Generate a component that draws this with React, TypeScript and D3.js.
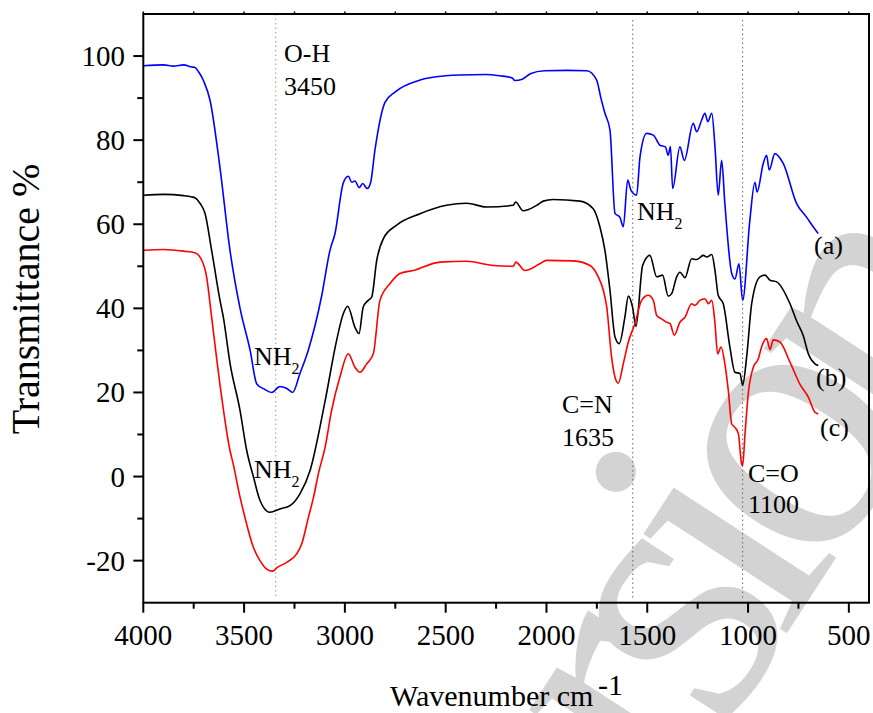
import React from 'react';
import * as d3 from 'd3';

const xMajorTicks = [4000, 3500, 3000, 2500, 2000, 1500, 1000, 500];
const xMinorTicks = [3750, 3250, 2750, 2250, 1750, 1250, 750];
const xTopTicks = [4000, 3750, 3500, 3250, 3000, 2750, 2500, 2250, 2000, 1750, 1500, 1250, 1000, 750, 500];
const yMajorTicks = [-20, 0, 20, 40, 60, 80, 100];
const yMinorTicks = [-10, 10, 30, 50, 70, 90];
const markerLines = [3343, 1572, 1027];

const waveA = [4000, 3900, 3850, 3800, 3760, 3744, 3725, 3700, 3669, 3620, 3570, 3520, 3470, 3437, 3400, 3363, 3322, 3290, 3259, 3223, 3182, 3115, 3074, 3049, 3008, 2983, 2966, 2950, 2929, 2912, 2889, 2872, 2851, 2801, 2750, 2627, 2500, 2429, 2300, 2231, 2170, 2157, 2120, 2080, 2010, 1900, 1800, 1751, 1730, 1710, 1685, 1660, 1636, 1619, 1597, 1581, 1553, 1536, 1503, 1470, 1437, 1410, 1396, 1385, 1374, 1338, 1316, 1272, 1255, 1230, 1214, 1200, 1180, 1164, 1148, 1131, 1115, 1081, 1065, 1045, 1027, 991, 966, 955, 925, 908, 895, 867, 825, 759, 710, 677, 652];
const transA = [97.7, 97.9, 97.6, 97.9, 97.4, 97.3, 96.2, 94, 89.5, 73.6, 53.8, 40, 30, 22, 20.8, 20, 21.4, 21, 20, 24.5, 30, 43, 53.8, 57.8, 69.8, 71.4, 70, 70.3, 68.7, 69.7, 68.5, 70, 77.6, 89, 91.5, 94.3, 95.3, 95.5, 95.6, 95.3, 94.8, 94.2, 94.5, 95.8, 96.5, 96.6, 96.5, 94.3, 90, 86.4, 82.4, 62.6, 61.7, 59.4, 70.5, 68.1, 66.9, 76, 81.6, 81.2, 78.8, 78.4, 76.4, 78.5, 68.5, 78.4, 75.2, 84, 82, 84.8, 86.4, 84.4, 86.4, 78.4, 66.9, 75.2, 64.9, 48.3, 47, 50.6, 41.9, 61, 70, 67.7, 74.4, 76.4, 72.9, 76.8, 74.4, 64.9, 61.7, 59.4, 57.8];

const waveB = [4000, 3900, 3800, 3760, 3744, 3719, 3694, 3661, 3620, 3603, 3570, 3520, 3487, 3454, 3421, 3372, 3322, 3272, 3223, 3173, 3098, 3041, 3008, 2986, 2950, 2930, 2909, 2884, 2867, 2842, 2809, 2743, 2627, 2496, 2396, 2297, 2165, 2153, 2116, 2049, 2016, 1967, 1834, 1768, 1735, 1710, 1685, 1660, 1639, 1611, 1594, 1573, 1556, 1523, 1487, 1453, 1424, 1396, 1379, 1354, 1338, 1313, 1280, 1255, 1222, 1205, 1180, 1164, 1148, 1123, 1090, 1065, 1040, 1027, 1007, 982, 941, 916, 891, 858, 792, 759, 726, 701, 668, 652];
const transB = [66.9, 67.1, 66.8, 66.5, 66.3, 65, 62.6, 53.8, 42, 37.9, 27, 15.7, 6.2, 0, -5.7, -8.5, -7.7, -6.9, -4.1, 1.4, 18, 32.4, 38.7, 40.5, 35.5, 34, 40.3, 41.9, 42.7, 51.4, 56.6, 59.8, 62.5, 64.5, 65, 64.1, 64.5, 65.3, 63.2, 64.5, 65.5, 65.9, 65.5, 63.7, 59.4, 53.8, 44.3, 33.2, 31.6, 37.9, 42.9, 40.3, 35.7, 50.2, 52.6, 47.5, 47.9, 42.9, 43.5, 47.5, 48.6, 47.3, 51.8, 51.6, 52.6, 52.2, 52.8, 49, 43.1, 41.1, 30.8, 24.8, 24.5, 21.7, 28.4, 41.1, 47.5, 47.9, 46.7, 46.3, 41.1, 37, 33.5, 29.2, 26.8, 26.4];

const waveC = [4000, 3900, 3800, 3744, 3719, 3686, 3661, 3620, 3570, 3554, 3520, 3504, 3454, 3421, 3388, 3358, 3338, 3289, 3239, 3214, 3181, 3156, 3130, 3098, 3066, 3025, 2983, 2950, 2925, 2892, 2859, 2826, 2776, 2727, 2661, 2528, 2396, 2264, 2165, 2152, 2107, 2033, 2000, 1867, 1784, 1743, 1718, 1701, 1677, 1660, 1644, 1619, 1594, 1561, 1528, 1495, 1470, 1453, 1429, 1404, 1387, 1366, 1338, 1313, 1280, 1263, 1239, 1214, 1197, 1180, 1164, 1151, 1134, 1115, 1098, 1081, 1065, 1048, 1032, 1027, 1015, 999, 974, 949, 933, 908, 891, 875, 842, 792, 743, 701, 668, 652];
const transC = [53.8, 54, 53.6, 53.2, 52.2, 47.5, 37.9, 22, 6.2, 3, -4.9, -8.1, -16.8, -20, -22, -22.5, -21.7, -20.4, -18.4, -16, -9.7, -5, 1, 7, 15.7, 23.6, 29.2, 26, 24.8, 26.8, 29.2, 41.9, 45.9, 48.3, 49, 51, 51.2, 50.2, 50, 51, 49, 50.6, 51.4, 51.3, 50.2, 47.5, 44.3, 40.3, 28.4, 23.6, 22.2, 26.8, 32, 36.4, 41.9, 43.1, 41.9, 38.3, 37.5, 36.7, 36.4, 33.6, 36.7, 37.9, 41.1, 40.7, 41.9, 42.3, 41.1, 41.9, 36.4, 29.2, 30.8, 26.8, 20.5, 12.5, 11.7, 10.2, 3, 2.6, 10.2, 19.7, 26, 28, 30.8, 32.8, 30.2, 32.5, 32, 27.2, 22, 18.9, 15.3, 14.9];

const seriesColors = ['#0000ff', '#000000', '#ff0000'];

export default function App() {
  const W = 873, H = 713;
  const left = 143.3, right = 869, top = 14, bottom = 602.7;
  const x = d3.scaleLinear().domain([4000, 400]).range([left, right]);
  const y = d3.scaleLinear().domain([-30, 110]).range([bottom, top]);
  const line = d3.line<[number, number]>().x(d => x(d[0])).y(d => y(d[1])).curve(d3.curveMonotoneX);
  const series = [
    waveA.map((w, i) => [w, transA[i]] as [number, number]),
    waveB.map((w, i) => [w, transB[i]] as [number, number]),
    waveC.map((w, i) => [w, transC[i]] as [number, number]),
  ];
  const font = "'Liberation Serif', 'Times New Roman', Times, serif";
  const wmX = 491, wmY = 1089;
  return (
    <svg width={W} height={H} style={{ position: 'absolute', left: 0, top: 0, background: '#fff', fontFamily: font }}>
      <rect x={0} y={0} width={W} height={H} fill="#fff" />
      <text x={wmX} y={wmY} transform={`rotate(-57 ${wmX} ${wmY})`} fontSize={380} letterSpacing={-35} fill="#d3d3d3" style={{ fontFamily: font }}>Version</text>
      {markerLines.map((m, i) => (
        <line key={i} x1={x(m)} x2={x(m)} y1={i === 0 ? top : top + 6} y2={bottom - 4} stroke={i === 0 ? '#999' : '#666'} strokeWidth={1} strokeDasharray="1.5,3" />
      ))}
      {series.map((s, i) => (
        <path key={i} d={line(s) || ''} fill="none" stroke={seriesColors[i]} strokeWidth={1.6} strokeLinejoin="round" />
      ))}
      <rect x={left} y={top} width={right - left} height={bottom - top} fill="none" stroke="#000" strokeWidth={2} />
      {xMajorTicks.map(t => (
        <g key={t}>
          <line x1={x(t)} x2={x(t)} y1={bottom} y2={bottom + 10} stroke="#000" strokeWidth={2} />
          <text x={x(t)} y={645} fontSize={29} textAnchor="middle" style={{ fontFamily: font }}>{t}</text>
        </g>
      ))}
      {xMinorTicks.map(t => (
        <line key={t} x1={x(t)} x2={x(t)} y1={bottom} y2={bottom + 6} stroke="#000" strokeWidth={2} />
      ))}
      {xTopTicks.map(t => (
        <line key={t} x1={x(t)} x2={x(t)} y1={top} y2={top - 2.5} stroke="#000" strokeWidth={1.5} />
      ))}
      {yMajorTicks.map(t => (
        <g key={t}>
          <line x1={left - 10} x2={left} y1={y(t)} y2={y(t)} stroke="#000" strokeWidth={2} />
          <text x={125} y={y(t) + 10} fontSize={29} textAnchor="end" style={{ fontFamily: font }}>{t}</text>
        </g>
      ))}
      {yMinorTicks.map(t => (
        <line key={t} x1={left - 6} x2={left} y1={y(t)} y2={y(t)} stroke="#000" strokeWidth={2} />
      ))}
      <text transform="translate(39,299) rotate(-90)" fontSize={40} textAnchor="middle" style={{ fontFamily: font }}>Transmittance %</text>
      <text x={390} y={706} fontSize={30} style={{ fontFamily: font }}>Wavenumber cm</text>
      <text x={598} y={695} fontSize={30} style={{ fontFamily: font }}>-1</text>
      <g fontSize={26} style={{ fontFamily: font }}>
        <text x={284} y={62}>O-H</text>
        <text x={284} y={95}>3450</text>
        <text x={254} y={365}>NH<tspan fontSize={16} dy={9}>2</tspan></text>
        <text x={254} y={478}>NH<tspan fontSize={16} dy={9}>2</tspan></text>
        <text x={637} y={220}>NH<tspan fontSize={16} dy={9}>2</tspan></text>
        <text x={562} y={413}>C=N</text>
        <text x={562} y={446}>1635</text>
        <text x={748} y={482}>C=O</text>
        <text x={748} y={513}>1100</text>
        <text x={814} y={254}>(a)</text>
        <text x={816} y={386}>(b)</text>
        <text x={820} y={436}>(c)</text>
      </g>
    </svg>
  );
}
